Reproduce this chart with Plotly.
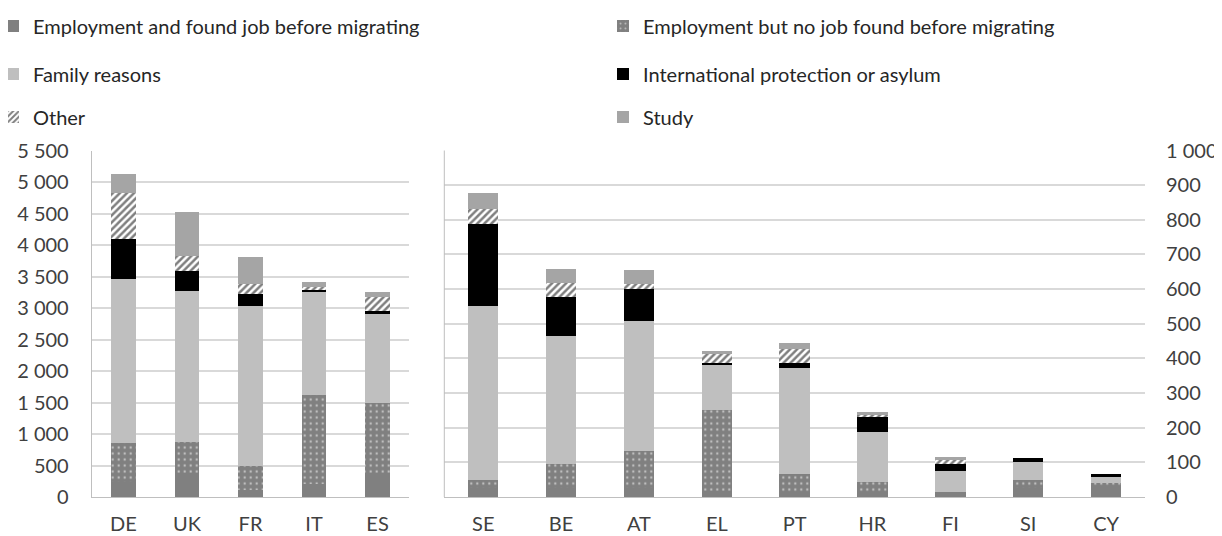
import plotly.graph_objects as go

# Left panel: large countries (thousands scale on left axis)
big_countries = ["DE", "UK", "FR", "IT", "ES"]
big_found = [245, 375, 115, 210, 375]
big_nojob = [617, 503, 374, 1409, 1122]
big_family = [2593, 2392, 2542, 1645, 1413]
big_asylum = [645, 322, 196, 15, 37]
big_other = [731, 233, 148, 54, 222]
big_study = [296, 704, 429, 79, 80]

# Right panel: smaller countries (right axis)
small_countries = ["SE", "BE", "AT", "EL", "PT", "HR", "FI", "SI", "CY"]
small_found = [25, 27, 27, 17, 13, 13, 15, 27, 32]
small_nojob = [25, 69, 105, 235, 54, 31, 0, 22, 7]
small_family = [501, 368, 376, 132, 306, 145, 60, 53, 22]
small_asylum = [236, 113, 92, 3, 14, 45, 19, 10, 4]
small_other = [44, 40, 14, 27, 39, 4, 12, 0, 0]
small_study = [45, 42, 42, 7, 19, 7, 9, 0, 0]

series_names = [
    "Employment and found job before migrating",
    "Employment but no job found before migrating",
    "Family reasons",
    "International protection or asylum",
    "Other",
    "Study",
]

FONT = "Lato, 'Open Sans', sans-serif"
TEXT = "#404040"
GRID = "#d9d9d9"
AXIS = "#bfbfbf"

styles = [
    dict(color="#808080"),
    dict(color="#808080", pattern=dict(shape=".", fgcolor="white", size=6, solidity=0.12)),
    dict(color="#bfbfbf"),
    dict(color="#000000"),
    dict(color="white", pattern=dict(shape="/", fgcolor="black", size=5, solidity=0.5)),
    dict(color="#a5a5a5"),
]

big_series = [big_found, big_nojob, big_family, big_asylum, big_other, big_study]
small_series = [small_found, small_nojob, small_family, small_asylum, small_other, small_study]

# the page body adds an 8px margin around the figure
OFF = 8
W, H = 1222 - OFF, 536 - OFF


def fx(px):
    return (px - OFF) / W


def fy(py):
    return 1 - (py - OFF) / H


# legend slots: two columns, three rows
legend_ids = ["legend", "legend2", "legend3", "legend4", "legend5", "legend6"]
col_x = [fx(-7), fx(603)]
row_y = [fy(26), fy(74), fy(117)]

fig = go.Figure()
for i, name in enumerate(series_names):
    fig.add_trace(go.Bar(
        x=big_countries, y=big_series[i], name=name,
        marker=dict(line=dict(width=0), **styles[i]),
        xaxis="x", yaxis="y", legend=legend_ids[i], showlegend=True,
    ))
    fig.add_trace(go.Bar(
        x=small_countries, y=small_series[i], name=name,
        marker=dict(line=dict(width=0), **styles[i]),
        xaxis="x2", yaxis="y2", showlegend=False,
    ))

legends = {}
for i, lid in enumerate(legend_ids):
    legends[lid] = dict(
        x=col_x[i % 2], y=row_y[i // 2], xanchor="left", yanchor="middle",
        orientation="h", bgcolor="rgba(0,0,0,0)", borderwidth=0,
        font=dict(family=FONT, size=20, color="#262626"),
        itemwidth=30,
    )

y_dom = [fy(497), fy(150.5)]

fig.update_layout(
    width=W, height=H,
    margin=dict(l=0, r=0, t=0, b=0, autoexpand=False),
    paper_bgcolor="white", plot_bgcolor="white",
    barmode="stack", bargap=0.61,
    separators=", ",
    font=dict(family=FONT, size=20, color=TEXT),
    xaxis=dict(domain=[fx(91.7), fx(409.3)], showline=True, linecolor=AXIS, linewidth=1,
               showgrid=False, ticks="", ticklabelstandoff=9,
               tickfont=dict(size=20, color=TEXT)),
    yaxis=dict(domain=y_dom, range=[0, 5500], dtick=500, tickformat=",d",
               showline=True, linecolor=AXIS, linewidth=1, gridcolor=GRID, gridwidth=1.5,
               zeroline=False, ticks="", ticklabelstandoff=18,
               tickfont=dict(size=20, color=TEXT)),
    xaxis2=dict(domain=[fx(444.3), fx(1145)], anchor="y2", showline=True, linecolor=AXIS,
                linewidth=1, showgrid=False, ticks="", ticklabelstandoff=9,
                tickfont=dict(size=20, color=TEXT)),
    yaxis2=dict(domain=y_dom, anchor="x2", side="right", range=[0, 1000], dtick=100,
                tickformat=",d", showline=False, gridcolor=GRID, gridwidth=1.5,
                zeroline=False, ticks="", ticklabelstandoff=20,
                tickfont=dict(size=20, color=TEXT)),
    **legends,
)

# vertical frame line on the left edge of the right panel
fig.add_shape(type="line", xref="x2 domain", yref="y2 domain", x0=0, x1=0, y0=0, y1=1,
              line=dict(color=AXIS, width=1))

fig.write_html("out.html")
